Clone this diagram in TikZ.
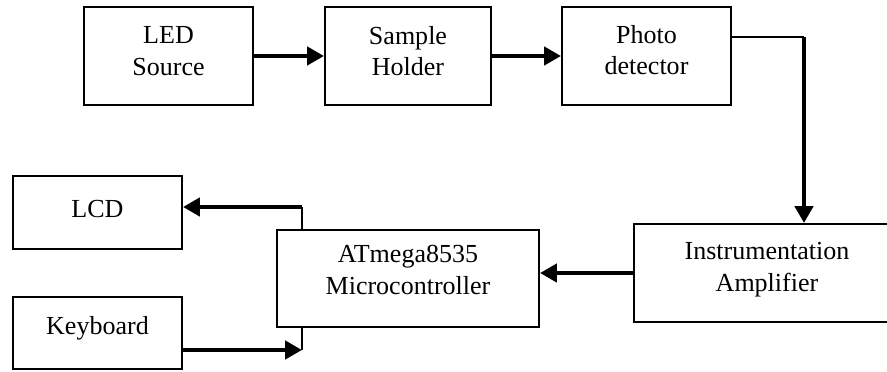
\documentclass[tikz,border=0pt]{standalone}
\usepackage{fontspec}
\setmainfont{Liberation Serif}
\usepackage{tikz}
\usetikzlibrary{arrows.meta, positioning, calc}
\tikzset{
    block/.style={
        rectangle, minimum width=4.225cm, minimum height=2.45cm,
        align=center, draw=black, line width=1.4pt, inner sep=2pt,
        font=\fontsize{18.5}{22.7}\selectfont
    },
    lift/.style={text depth=#1},
    arrow/.style={
        line width=2.8pt, -{Triangle[length=0.42cm, width=0.45cm]}
    },
    wire/.style={line width=1.4pt, -}
}

\begin{document}
\begin{tikzpicture}[x=0.025cm, y=-0.025cm]
        \useasboundingbox (0,0) rectangle (887,372);
        \clip (0,0) rectangle (887,372);
        % top row
        \node [block, lift=0.25cm] (led) at (168.5,56) {LED\\Source};
        \node [block, lift=0.25cm, minimum width=4.15cm] (holder) at (408,56) {Sample\\Holder};
        \node [block, lift=0.3cm] (photo) at (646.5,56) {Photo\\detector};
        % bottom part
        \node [block, lift=0.32cm, minimum width=6.65cm] (amp) at (767,273) {Instrumentation\\Amplifier};
        \node [block, lift=0.42cm, minimum width=6.55cm, minimum height=2.425cm] (mcu) at (408,278.5) {ATmega8535\\Microcontroller};
        \node [block, lift=0.2cm, minimum height=1.825cm] (lcd) at (97.5,212.5) {LCD};
        \node [block, lift=0.39cm, minimum height=1.8cm] (kbd) at (97.5,333) {Keyboard};
        % turning points
        \coordinate (turn) at (804,37);
        \coordinate (up) at (302,207);
        \coordinate (dn) at (302,350);

        \draw [arrow] (led.east) -- (holder.west);
        \draw [arrow] (holder.east) -- (photo.west);
        \draw [wire] (photo.east |- turn) -- (turn);
        \draw [arrow] (turn) -- (turn |- amp.north);
        \draw [arrow] (amp.west) -- (amp.west -| mcu.east);
        \draw [wire] (up |- mcu.north) -- (up);
        \draw [arrow] (up) -- (up -| lcd.east);
        \draw [wire] (dn |- mcu.south) -- (dn);
        \draw [arrow] (dn -| kbd.east) -- (dn);
\end{tikzpicture}
\end{document}
